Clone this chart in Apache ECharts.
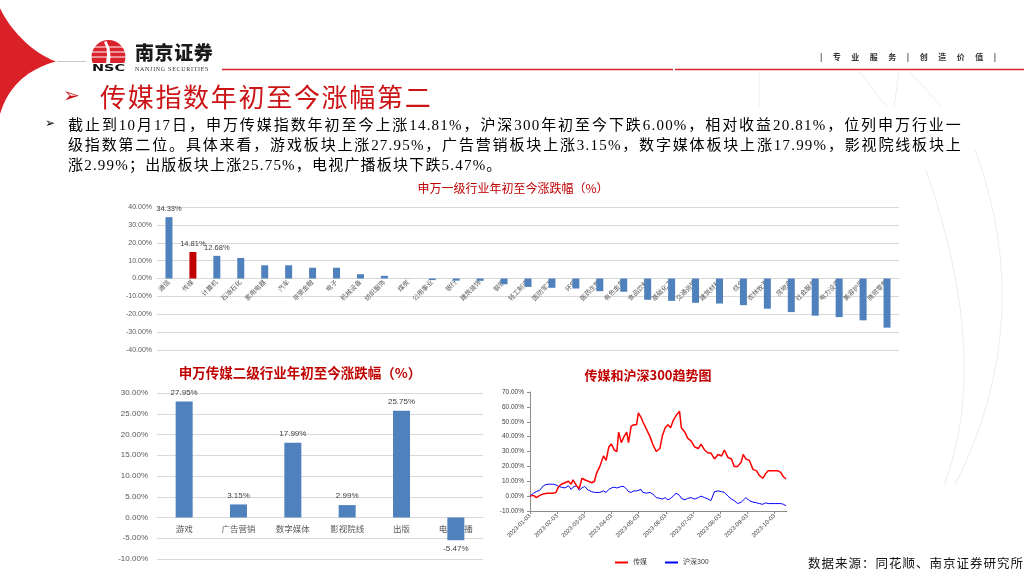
<!DOCTYPE html>
<html>
<head>
<meta charset="utf-8">
<script src="https://cdn.jsdelivr.net/npm/echarts@6/dist/echarts.min.js"></script>
<style>
html,body{margin:0;padding:0;width:1024px;height:576px;overflow:hidden;background:#fff;}
#chart{position:absolute;left:0;top:0;width:1024px;height:576px;}
.t{position:absolute;white-space:nowrap;}
.bl{position:absolute;left:68px;width:894px;font-size:15px;line-height:20px;letter-spacing:1.2px;
  font-family:"Liberation Serif","Noto Sans CJK SC",serif;color:#000;text-align:justify;text-align-last:justify;}
</style>
</head>
<body>
<div id="chart"></div>
<div class="t" style="left:820px;top:52px;font:bold 8px/10px 'Noto Sans CJK SC';letter-spacing:10.5px;color:#333;">|专业服务|创造价值|</div>
<div class="t" style="left:135px;top:40px;font:900 19px/24px 'Noto Sans CJK SC';letter-spacing:0.6px;color:#1a1a1a;">南京证券</div>
<div class="t" style="left:135px;top:65px;font:6px/8px 'Liberation Serif';letter-spacing:0.7px;color:#333;">NANJING SECURITIES</div>
<div class="t" style="left:92px;top:63px;font:bold 8.5px/10px 'DejaVu Sans';color:#111;transform:scaleX(1.7);transform-origin:0 0;">NSC</div>
<div class="t" style="left:63px;top:83px;font:20px/24px 'DejaVu Sans';color:#CC1417;">➢</div>
<div class="t" style="left:100px;top:81px;font:26px/30px 'Noto Sans CJK SC';letter-spacing:1.7px;color:#CC1417;">传媒指数年初至今涨幅第二</div>
<div class="t" style="left:45px;top:116px;font:12px/14px 'DejaVu Sans';color:#000;">➢</div>
<div class="bl" style="top:115px;">截止到10月17日，申万传媒指数年初至今上涨14.81%，沪深300年初至今下跌6.00%，相对收益20.81%，位列申万行业一</div>
<div class="bl" style="top:135px;">级指数第二位。具体来看，游戏板块上涨27.95%，广告营销板块上涨3.15%，数字媒体板块上涨17.99%，影视院线板块上</div>
<div class="bl" style="top:155px;text-align:left;text-align-last:left;">涨2.99%；出版板块上涨25.75%，电视广播板块下跌5.47%。</div>
<div class="t" style="left:808px;top:555px;font:12.5px/16px 'Noto Sans CJK SC';letter-spacing:1px;color:#111;">数据来源：同花顺、南京证券研究所</div>
<script>
// ---------- data ----------
const industries = ['通信','传媒','计算机','石油石化','家用电器','汽车','非银金融','电子','机械设备','纺织服饰','煤炭','公用事业','银行','建筑装饰','钢铁','轻工制造','国防军工','环保','医药生物','有色金属','食品饮料','基础化工','交通运输','建筑材料','综合','农林牧渔','房地产','社会服务','电力设备','美容护理','商贸零售'];
const industryReturns = [34.33,14.81,12.68,11.5,7.4,7.4,6.0,6.0,2.4,1.5,0.1,-0.9,-1.2,-1.3,-3.2,-4.7,-5.2,-5.6,-7.1,-7.4,-11.9,-12.5,-13.6,-14.0,-14.9,-16.9,-18.8,-20.8,-21.6,-23.4,-27.5];
const industryLabelled = ['通信','传媒','计算机'];
const highlightIndustry = '传媒';

const subIndustries = ['游戏','广告营销','数字媒体','影视院线','出版','电视广播'];
const subReturns = [27.95,3.15,17.99,2.99,25.75,-5.47];

const trendDays = [0,4,7,11,15,19,22,26,29,32,35,39,43,46,48,52,55,58,61,65,69,72,74,78,82,85,88,91,94,97,99,102,105,108,110,113,116,119,121,124,126,130,134,137,141,145,148,151,154,157,160,163,167,169,173,176,180,184,188,191,195,199,202,206,210,214,217,221,225,228,232,236,238,241,245,249,253,256,260,263,266,269,273,277,280,283,286];
const mediaTrend = [0,0.5,-1,0.5,1.5,2,2,2,2.5,6.5,8,9,10,8,11,7,5,12,11,10,9,10,15,20,27,24,33,35,31,30,43,36,40,43,36,47,48,48,56,53,50,45,40,35,30,32,41,46,48,46,51,54,57,46,43,39,37,33,32,35,31,29,29,25,28,27,31,26,25,20,20,23,28,25,24,18,17,14,12,15,17,17,17,17,16,13,11.5];
const hs300Trend = [0,2,3,4,7,8,8,8,7.5,6.5,6,5.5,7,4.5,6,7,4,5.5,6.5,4,3,2.5,1.5,2.5,3.5,2.5,4.5,5.5,6,5.5,5,6.5,6.5,4.5,3,2.5,3.5,3.5,3.5,4.5,2.5,2,2.5,1.5,-1,-1.5,-2,-1,-2.5,-1.5,0,2,0.5,-1.5,-2.5,-1.5,-1,-2,-1,0,-1,-2,-3,3,3.5,3,2.5,0,-2,-3,-5,-4,-3,-1,-3,-4,-4.5,-5,-5.5,-4.5,-5,-5,-5,-5,-5,-5.5,-6.5];
const trendTickLabels = ['2023-01-03','2023-02-03','2023-03-03','2023-04-03','2023-05-03','2023-06-03','2023-07-03','2023-08-03','2023-09-03','2023-10-03'];
const trendSeriesNames = ['传媒','沪深300'];

// ---------- decoration helpers ----------
function cubicPts(p0, p1, p2, p3, n) {
  const out = [];
  for (let i = 0; i <= n; i++) {
    const t = i / n, u = 1 - t;
    out.push([
      u*u*u*p0[0] + 3*u*u*t*p1[0] + 3*u*t*t*p2[0] + t*t*t*p3[0],
      u*u*u*p0[1] + 3*u*u*t*p1[1] + 3*u*t*t*p2[1] + t*t*t*p3[1]
    ]);
  }
  return out;
}
const finPts = cubicPts([0,8],[5,20],[25,50],[56,61.5],20)
  .concat(cubicPts([56,61.5],[25,70],[8,88],[0,114],20).slice(1));

// ---------- chart ----------
const FONT = '"Liberation Sans","Noto Sans CJK SC",sans-serif';
const pct = v => v.toFixed(2) + '%';
const tickStep = 273 / 9;
const chart = echarts.init(document.getElementById('chart'), null, {renderer: 'canvas'});

const topGrid = {left: 157, right: 125, top: 207, height: 143};
const topRange = [-40, 40];
const subGrid = {left: 157, right: 541, top: 393, height: 166};
const subRange = [-10, 30];
// place category axis on the zero line of its value axis
const zeroOffset = (g, r) => -g.height * (0 - r[0]) / (r[1] - r[0]);

const topBars = industries.map((name, i) => {
  const item = {value: industryReturns[i]};
  if (name === highlightIndustry) item.itemStyle = {color: '#C00000'};
  if (industryLabelled.includes(name)) item.label = {show: true};
  return item;
});
const subBars = subReturns.map(v => v < 0 ? {value: v, label: {position: 'bottom'}} : {value: v});

const option = {
  animation: false,
  textStyle: {fontFamily: FONT},
  grid: [
    topGrid,
    subGrid,
    {left: 530, right: 237, top: 392, bottom: 65}
  ],
  xAxis: [
    {gridIndex: 0, type: 'category', data: industries, position: 'bottom', offset: zeroOffset(topGrid, topRange),
     axisLine: {show: true, onZero: false, lineStyle: {color: '#D9D9D9'}}, axisTick: {show: false},
     axisLabel: {interval: 0, rotate: 45, fontSize: 6.5, color: '#595959', margin: 3}},
    {gridIndex: 1, type: 'category', data: subIndustries, position: 'bottom', offset: zeroOffset(subGrid, subRange),
     axisLine: {show: true, onZero: false, lineStyle: {color: '#D9D9D9'}}, axisTick: {show: false},
     axisLabel: {interval: 0, fontSize: 8.5, color: '#595959', margin: 8}},
    {gridIndex: 2, type: 'value', min: 0, max: 287, interval: tickStep,
     axisLine: {onZero: false, lineStyle: {color: '#8C8C8C'}},
     axisTick: {show: true, lineStyle: {color: '#8C8C8C'}, length: 3},
     splitLine: {show: false},
     axisLabel: {rotate: 45, fontSize: 6, color: '#404040', margin: 4, showMaxLabel: false,
       formatter: v => trendTickLabels[Math.round(v / tickStep)] || ''}}
  ],
  yAxis: [
    {gridIndex: 0, type: 'value', min: topRange[0], max: topRange[1], interval: 10,
     axisLine: {show: false}, axisTick: {show: false},
     splitLine: {lineStyle: {color: '#D9D9D9'}},
     axisLabel: {fontSize: 7, color: '#595959', formatter: pct, margin: 5}},
    {gridIndex: 1, type: 'value', min: subRange[0], max: subRange[1], interval: 5,
     axisLine: {show: false}, axisTick: {show: false},
     splitLine: {lineStyle: {color: '#D9D9D9'}},
     axisLabel: {fontSize: 8, color: '#595959', formatter: pct, margin: 9}},
    {gridIndex: 2, type: 'value', min: -10, max: 70, interval: 10,
     axisLine: {show: true, onZero: false, lineStyle: {color: '#8C8C8C'}},
     axisTick: {show: true, lineStyle: {color: '#8C8C8C'}, length: 3},
     splitLine: {show: false},
     axisLabel: {fontSize: 6.5, color: '#404040', formatter: pct, margin: 6}}
  ],
  legend: {
    data: trendSeriesNames, left: 610, top: 554, itemWidth: 13, itemHeight: 2, itemGap: 18,
    icon: 'rect', textStyle: {fontSize: 7, color: '#404040'}
  },
  series: [
    {type: 'bar', xAxisIndex: 0, yAxisIndex: 0, data: topBars, barWidth: 7,
     itemStyle: {color: '#4F81BD'},
     label: {show: false, position: 'top', fontSize: 7.5, color: '#404040', distance: 4,
       formatter: p => pct(p.value)}},
    {type: 'bar', xAxisIndex: 1, yAxisIndex: 1, data: subBars, barWidth: 17,
     itemStyle: {color: '#4F81BD'},
     label: {show: true, position: 'top', fontSize: 8, color: '#404040', distance: 5,
       formatter: p => pct(p.value)}},
    {type: 'line', name: trendSeriesNames[1], xAxisIndex: 2, yAxisIndex: 2,
     data: trendDays.map((d, i) => [d, hs300Trend[i]]), showSymbol: false, symbol: 'none',
     lineStyle: {color: '#0000FF', width: 1}, itemStyle: {color: '#0000FF'}},
    {type: 'line', name: trendSeriesNames[0], xAxisIndex: 2, yAxisIndex: 2,
     data: trendDays.map((d, i) => [d, mediaTrend[i]]), showSymbol: false, symbol: 'none',
     lineStyle: {color: '#FF0000', width: 1.5}, itemStyle: {color: '#FF0000'}}
  ],
  graphic: [
    {type: 'polygon', shape: {points: finPts}, style: {fill: '#DA2128'}},
    {type: 'line', shape: {x1: 57, y1: 61.5, x2: 86, y2: 61.5}, style: {stroke: '#C8C8C8', lineWidth: 1}},
    {type: 'line', shape: {x1: 222, y1: 69.5, x2: 673, y2: 69.5}, style: {stroke: '#D9232D', lineWidth: 1.6}},
    {type: 'line', shape: {x1: 675, y1: 69.5, x2: 1024, y2: 69.5}, style: {stroke: '#D9232D', lineWidth: 1.6}},
    {type: 'circle', shape: {cx: 108.5, cy: 57, r: 17}, style: {fill: '#D9232D'}},
    {type: 'rect', shape: {x: 88, y: 63, width: 42, height: 15}, style: {fill: '#fff'}},
    {type: 'line', shape: {x1: 90, y1: 47, x2: 127, y2: 47}, style: {stroke: '#fff', lineWidth: 1}},
    {type: 'line', shape: {x1: 90, y1: 52, x2: 127, y2: 52}, style: {stroke: '#fff', lineWidth: 1}},
    {type: 'line', shape: {x1: 90, y1: 57, x2: 127, y2: 57}, style: {stroke: '#fff', lineWidth: 1}},
    {type: 'polygon', shape: {points: [[106,63],[107,55],[106.5,48],[104,42],[106.5,41],[109.5,48],[110.5,56],[110,63]]}, style: {fill: '#fff'}},
    {type: 'bezierCurve', shape: {x1: 926, y1: 170, cpx1: 992, cpy1: 360, x2: 944, y2: 485}, style: {fill: 'none', stroke: '#ECECEC', lineWidth: 1}},
    {type: 'bezierCurve', shape: {x1: 975, y1: 150, cpx1: 1038, cpy1: 320, x2: 955, y2: 485}, style: {fill: 'none', stroke: '#ECECEC', lineWidth: 1}},
    {type: 'line', shape: {x1: 759, y1: 71, x2: 759, y2: 107}, style: {stroke: '#EEEEEE', lineWidth: 1}},
    {type: 'line', shape: {x1: 859, y1: 71, x2: 887, y2: 107}, style: {stroke: '#EEEEEE', lineWidth: 1}},
    {type: 'line', shape: {x1: 899, y1: 71, x2: 894, y2: 107}, style: {stroke: '#EEEEEE', lineWidth: 1}},
    {type: 'line', shape: {x1: 909, y1: 71, x2: 942, y2: 107}, style: {stroke: '#EEEEEE', lineWidth: 1}},
    {type: 'text', style: {text: '申万一级行业年初至今涨跌幅（%）', x: 513, y: 188, align: 'center', verticalAlign: 'middle',
      font: '12px "Noto Sans CJK SC"', fill: '#C00000'}},
    {type: 'text', style: {text: '申万传媒二级行业年初至今涨跌幅（%）', x: 300, y: 373, align: 'center', verticalAlign: 'middle',
      font: 'bold 13.5px "Noto Sans CJK SC"', fill: '#C00000'}},
    {type: 'text', style: {text: '传媒和沪深300趋势图', x: 648, y: 375, align: 'center', verticalAlign: 'middle',
      font: 'bold 13px "Noto Sans CJK SC"', fill: '#C00000'}}
  ]
};
chart.setOption(option);
</script>
</body>
</html>
